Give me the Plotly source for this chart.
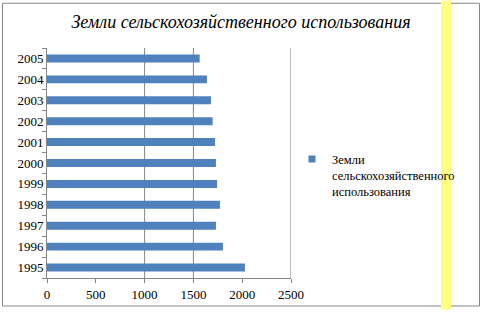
import plotly.graph_objects as go

years = ["1995", "1996", "1997", "1998", "1999", "2000", "2001", "2002", "2003", "2004", "2005"]
values = [2028, 1803, 1731, 1772, 1742, 1731, 1721, 1697, 1680, 1639, 1564]
series_name = "Земли<br>сельскохозяйственного<br>использования"
title_text = "Земли сельскохозяйственного использования"
x_ticks = [0, 500, 1000, 1500, 2000, 2500]
grid_at = [1000, 1500, 2500]

SERIF = "Liberation Serif, Times New Roman, serif"
BLUE = "#4f81bd"

W, H = 482, 314
L, R, T, B = 47, 191, 48, 32
pw = W - L - R
ph = H - T - B

def px(xp):
    return (xp - L) / pw

def py(yp):
    return (H - B - yp) / ph

fig = go.Figure()
fig.add_trace(go.Bar(
    y=years, x=values, orientation="h", name=series_name,
    marker=dict(color=BLUE, line=dict(width=0)),
    showlegend=False,
))
# legend entry with a small square symbol, like the reference
fig.add_trace(go.Scatter(
    x=[None], y=[None], mode="markers", name=series_name,
    marker=dict(symbol="square", size=7, color=BLUE),
    showlegend=True, hoverinfo="skip",
))

shapes = []
for g in grid_at:
    shapes.append(dict(type="line", xref="x", yref="paper", x0=g, x1=g, y0=0, y1=1,
                       line=dict(color="#868686", width=1), layer="below"))
bx0, bx1, by0, by1 = px(2.5), px(479.5), py(2.5), py(310.5)
shapes.append(dict(type="rect", xref="paper", yref="paper", x0=bx0, x1=bx1, y0=by1, y1=by0,
                   line=dict(color="#868686", width=1), fillcolor="rgba(0,0,0,0)"))
shapes.append(dict(type="rect", xref="paper", yref="paper",
                   x0=px(441), x1=px(451), y0=py(0), y1=py(314),
                   line=dict(width=0), fillcolor="#ffff80", layer="above"))

fig.update_layout(
    width=W, height=H,
    margin=dict(l=L, r=R, t=T, b=B),
    paper_bgcolor="white", plot_bgcolor="white",
    bargap=0.62,
    shapes=shapes,
    title=dict(text=title_text, x=241 / W, xanchor="center", y=1 - 22 / H, yanchor="middle",
               font=dict(family=SERIF, size=18, color="black", style="italic")),
    xaxis=dict(range=[0, 2500], tickvals=x_ticks, ticktext=[str(v) for v in x_ticks],
               showgrid=False, zeroline=False, showline=True, linecolor="#868686",
               ticks="outside", ticklen=4, tickcolor="#868686",
               tickfont=dict(family=SERIF, size=13, color="black")),
    yaxis=dict(categoryorder="array", categoryarray=years,
               showgrid=False, showline=True, linecolor="#868686",
               ticks="outside", ticklen=4, tickcolor="#868686", tickson="boundaries",
               tickfont=dict(family=SERIF, size=13, color="black")),
    legend=dict(x=px(292), y=py(146), xanchor="left", yanchor="top",
                font=dict(family=SERIF, size=12.5, color="black"),
                bgcolor="rgba(0,0,0,0)", valign="top", itemwidth=30,
                tracegroupgap=0),
)

fig.write_html("out.html")
